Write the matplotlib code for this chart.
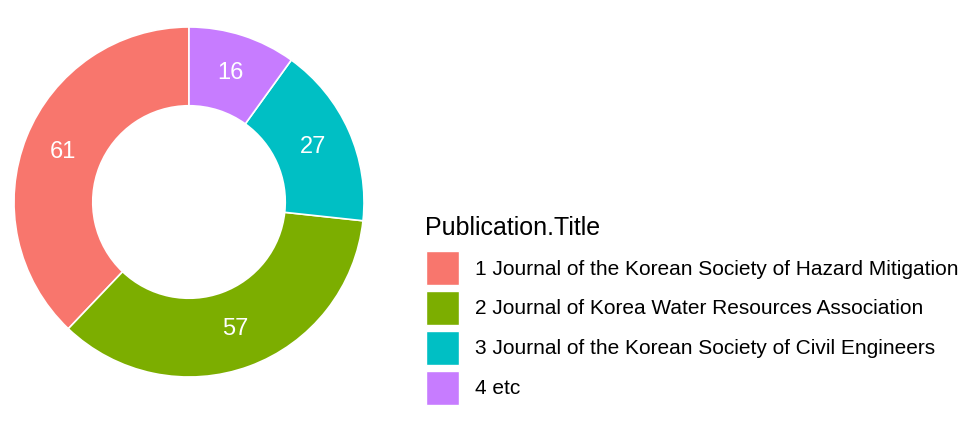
import numpy as np
import matplotlib.pyplot as plt
from matplotlib.patches import Patch

plt.rcParams['font.family'] = ['Liberation Sans', 'DejaVu Sans']

titles = ['1 Journal of the Korean Society of Hazard Mitigation',
          '2 Journal of Korea Water Resources Association',
          '3 Journal of the Korean Society of Civil Engineers',
          '4 etc']
counts = [61, 57, 27, 16]
colors = ['#F8766D', '#7CAE00', '#00BFC4', '#C77CFF']

fig = plt.figure(figsize=(9.74, 4.28), dpi=100)
W, H = 974, 428
cx, cy, r = 189, 428 - 202, 175
ax = fig.add_axes([(cx - r) / W, (cy - r) / H, 2 * r / W, 2 * r / H])

ring = 0.45
wedges, _ = ax.pie(counts, colors=colors, startangle=90, counterclock=True,
                   radius=1, wedgeprops=dict(width=ring, edgecolor='white', linewidth=1.2))
ax.set_xlim(-1, 1)
ax.set_ylim(-1, 1)
ax.set_aspect('equal')
ax.axis('off')

# labels in the middle of the ring
total = sum(counts)
start = 90
for c in counts:
    mid = np.deg2rad(start + 360 * c / total / 2)
    rr = 1 - ring / 2
    ax.text(rr * np.cos(mid), rr * np.sin(mid), str(c), color='white',
            fontsize=17, ha='center', va='center')
    start += 360 * c / total

# legend title drawn separately so the gap to the keys can be set
fig.text(425 / W, 1 - 228 / H, 'Publication.Title', fontsize=18,
         ha='left', va='center')
handles = [Patch(facecolor=col, edgecolor='white', linewidth=1) for col in colors]
leg = fig.legend(handles, titles, loc='upper left',
                 bbox_to_anchor=(426 / W, 1 - 251 / H), frameon=False,
                 fontsize=15, handlelength=1.6, handleheight=2.15,
                 handletextpad=0.75, labelspacing=0.27, borderaxespad=0, borderpad=0)

fig.savefig('out.png', dpi=100)
